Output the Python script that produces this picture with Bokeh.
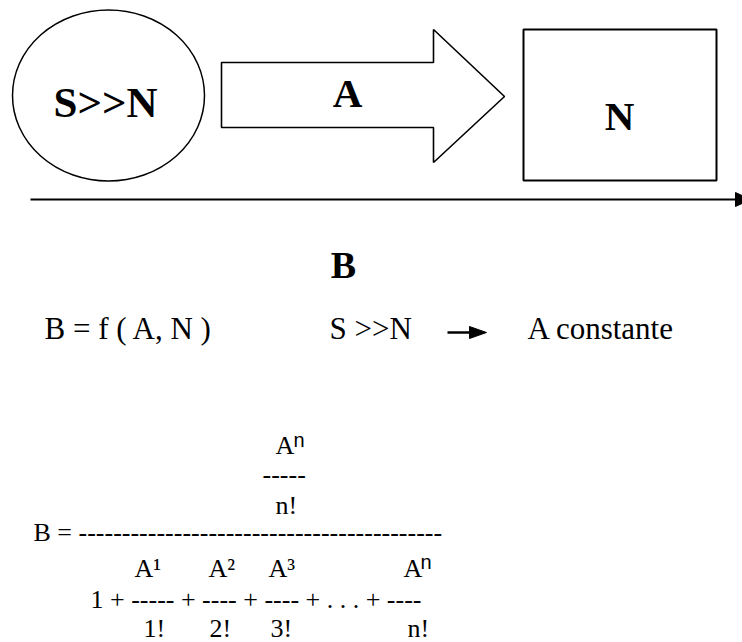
from bokeh.plotting import figure
from bokeh.models import Range1d
from bokeh.core.properties import value
from bokeh.embed import file_html
from bokeh.resources import INLINE

# ---- diagram content (labels) ----
top_labels = ["S>>N", "A", "N"]
title_label = ["B"]
relation_labels = ["B = f ( A, N )", "S >>N", "A constante"]
num_label = ["A", "-----", "n!"]
frac_bar = ["B = " + "-" * 42]
den_tops = ["A\u00b9", "A\u00b2", "A\u00b3", "A"]
den_line = ["1 + ----- + ---- + ---- + . . . + ----"]
den_bottoms = ["1!", "2!", "3!", "n!"]
sup_n = ["n", "n"]

# ---- positions (reference pixel coordinates, y downward; y = vertical text middle) ----
top_x = [105, 347, 619]
top_y = [102, 92, 115]
title_x = [343]
title_y = [264]
relation_x = [44, 329, 527]
relation_y = [328, 328, 328]
num_x = [275, 262, 275]
num_y = [445, 474, 505]
bar_x = [33]
bar_y = [532]
den_top_x = [134, 208, 268, 403]
den_top_y = [568, 568, 568, 568]
den_line_x = [90]
den_line_y = [599]
den_bot_x = [143, 209, 270, 407]
den_bot_y = [628, 628, 628, 628]
sup_x = [293, 420]
sup_y = [439, 561]

SERIF = value("Liberation Serif")
SANS = value("Liberation Sans")

W, H = 742, 642
p = figure(width=W, height=H, x_range=Range1d(0, W), y_range=Range1d(H, 0),
           output_backend="svg", toolbar_location=None, min_border=0,
           x_axis_location=None, y_axis_location=None)
p.grid.visible = False
p.outline_line_color = None
p.background_fill_color = "white"
p.border_fill_color = "white"

# ellipse (source)
p.ellipse(x=[108], y=[95], width=[192], height=[171], fill_color=None,
          line_color="black", line_width=1.5)
# big block arrow
p.patch(x=[221, 433, 433, 504, 433, 433, 221], y=[62, 62, 29, 96, 162, 127, 127],
        fill_color="white", line_color="black", line_width=1.6)
# box
p.quad(left=[523], right=[716], top=[29], bottom=[180], fill_color=None,
       line_color="black", line_width=2)
# long horizontal arrow
p.line(x=[30, 737], y=[199, 199], line_color="black", line_width=2.2)
p.patch(x=[735, 750, 735], y=[192, 199, 206], fill_color="black", line_color="black")
# small arrow in relation row
p.line(x=[447, 472], y=[332, 332], line_color="black", line_width=2.5)
p.patch(x=[469, 486, 469], y=[326, 332, 338], fill_color="black", line_color="black")

# bold labels
p.text(x=top_x[:1], y=top_y[:1], text=top_labels[:1], text_font=SERIF, text_font_style="bold",
       text_font_size="43px", text_align="center", text_baseline="middle", text_color="black")
p.text(x=top_x[1:], y=top_y[1:], text=top_labels[1:], text_font=SERIF, text_font_style="bold",
       text_font_size="41px", text_align="center", text_baseline="middle", text_color="black")
p.text(x=title_x, y=title_y, text=title_label, text_font=SERIF, text_font_style="bold",
       text_font_size="38px", text_align="center", text_baseline="middle", text_color="black")

# relation row
p.text(x=relation_x, y=relation_y, text=relation_labels, text_font=SERIF,
       text_font_size="31px", text_align="left", text_baseline="middle", text_color="black")

# formula
for xs, ys, ts in [(num_x, num_y, num_label), (bar_x, bar_y, frac_bar),
                   (den_top_x, den_top_y, den_tops), (den_line_x, den_line_y, den_line),
                   (den_bot_x, den_bot_y, den_bottoms)]:
    p.text(x=xs, y=ys, text=ts, text_font=SERIF, text_font_size="26px",
           text_align="left", text_baseline="middle", text_color="black")

p.text(x=sup_x, y=sup_y, text=sup_n, text_font=SANS, text_font_size="20px",
       text_align="left", text_baseline="middle", text_color="black")

open("out.html", "w").write(file_html(p, INLINE))
